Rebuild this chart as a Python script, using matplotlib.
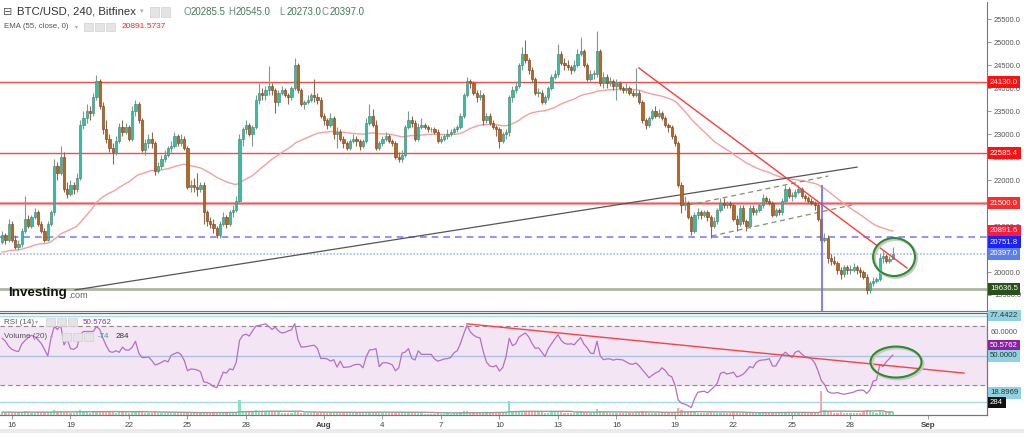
"""BTC/USD 4h chart with EMA, RSI and volume, Investing.com style."""

import matplotlib

matplotlib.use("Agg")
import matplotlib.pyplot as plt
import matplotlib.transforms as mtransforms
from matplotlib.patches import Ellipse, Rectangle
import numpy as np
import pandas as pd

plt.rcParams["font.family"] = ["Liberation Sans", "DejaVu Sans"]

# ---- data (4h candles, first one opens 2022-07-15 12:00) ----
start = pd.Timestamp("2022-07-15 12:00")
first_open = 20650.0

closes = [
    20800, 20700, 21050,                          # Jul 15
    20700, 20550, 20600, 20900, 21150, 21000,     # Jul 16
    21200, 21300, 21050, 20900, 20700, 21050,     # Jul 17
    21300, 22300, 22150, 22500, 21800, 21700,     # Jul 18
    21900, 21800, 22050, 23200, 23350, 23500,     # Jul 19
    23450, 23800, 24150, 23600, 23100, 22900,     # Jul 20
    22700, 22600, 22850, 23150, 23050, 23150,     # Jul 21
    22900, 23500, 23650, 23300, 22650, 22800,     # Jul 22
    22900, 22800, 22200, 22300, 22450, 22550,     # Jul 23
    22700, 22750, 22950, 22800, 22900, 22700,     # Jul 24
    21850, 21900, 21850, 21800, 21900, 21300,     # Jul 25
    21100, 21050, 20950, 20800, 21050, 21200,     # Jul 26
    21050, 21300, 21350, 21550, 22900, 23100,     # Jul 27
    23200, 23000, 23150, 23750, 23900, 23850,     # Jul 28
    23950, 24050, 23950, 23700, 23900, 23950,     # Jul 29
    23850, 23800, 24000, 24500, 23950, 23650,     # Jul 30
    23700, 23750, 23850, 23800, 23750, 23400,     # Jul 31
    23300, 23200, 23350, 23000, 23050, 22900,     # Aug 1
    22800, 22700, 22850, 22900, 22850, 22750,     # Aug 2
    22850, 23250, 23400, 23200, 22700, 22800,     # Aug 3
    22900, 22950, 22850, 22800, 22500, 22450,     # Aug 4
    22550, 23150, 23300, 23250, 22900, 23150,     # Aug 5
    23200, 23150, 23100, 23100, 23050, 22850,     # Aug 6
    22900, 22950, 23000, 23050, 23100, 23150,     # Aug 7
    23400, 23850, 24150, 24100, 23900, 23800,     # Aug 8
    23850, 23300, 23400, 23250, 23150, 23100,     # Aug 9
    22850, 23000, 23050, 23800, 23950, 24050,     # Aug 10
    24500, 24750, 24600, 24400, 24200, 23900,     # Aug 11
    23900, 23700, 23800, 24000, 24250, 24300,     # Aug 12
    24750, 24550, 24500, 24450, 24400, 24500,     # Aug 13
    24750, 24800, 24500, 24200, 24300, 24300,     # Aug 14
    24800, 24100, 24250, 24100, 24150, 24050,     # Aug 15
    24100, 24000, 23950, 24000, 23900, 23850,     # Aug 16
    23900, 23700, 23300, 23200, 23350, 23500,     # Aug 17
    23400, 23450, 23350, 23200, 23150, 22950,     # Aug 18
    22800, 21900, 21450, 21500, 21200, 20900,     # Aug 19
    21250, 21300, 21250, 21300, 21200, 21000,     # Aug 20
    21100, 21350, 21500, 21450, 21500, 21450,     # Aug 21
    21150, 21050, 21400, 21100, 21000, 21400,     # Aug 22
    21300, 21350, 21450, 21600, 21550, 21500,     # Aug 23
    21250, 21350, 21300, 21550, 21800, 21650,     # Aug 24
    21650, 21750, 21800, 21650, 21600, 21550,     # Aug 25
    21500, 21450, 21150, 20700, 20750, 20300,     # Aug 26
    20250, 20200, 20050, 19950, 20100, 20050,     # Aug 27
    20050, 20100, 20050, 20000, 19900, 19600,     # Aug 28
    19750, 19800, 19850, 20300, 20350, 20250,     # Aug 29
    20285.5, 20397.0,                             # Aug 30
]

highs = [
    20900, 20850, 21150,
    21100, 20800, 20700, 20950, 21650, 21250,
    21250, 21400, 21350, 21100, 20950, 21100,
    21350, 22450, 22400, 22740, 22600, 21950,
    22000, 21950, 22150, 23300, 23500, 23650,
    23600, 23900, 24280, 24200, 23700, 23300,
    23000, 22800, 22950, 23250, 23300, 23250,
    23200, 23600, 23750, 23700, 23350, 22900,
    23000, 23050, 22850, 22400, 22550, 22650,
    22750, 22850, 23050, 23000, 23000, 22950,
    22750, 22000, 22050, 22150, 21950, 21950,
    21350, 21200, 21150, 21000, 21100, 21300,
    21250, 21350, 21450, 21650, 23000, 23150,
    23300, 23250, 23200, 23850, 24100, 24000,
    24050, 24480, 24100, 24000, 23950, 24050,
    24000, 23900, 24050, 24650, 24550, 24000,
    23750, 23850, 23900, 24200, 23900, 23800,
    23450, 23350, 23450, 23400, 23150, 23100,
    22950, 22850, 22900, 23000, 22950, 22900,
    22900, 23350, 23650, 23550, 23300, 22850,
    22950, 23050, 23000, 22900, 22850, 22600,
    22650, 23200, 23500, 23400, 23300, 23250,
    23350, 23250, 23200, 23150, 23150, 23100,
    22950, 23000, 23100, 23100, 23150, 23200,
    23450, 23900, 24250, 24200, 24150, 23950,
    23950, 23900, 23450, 23450, 23300, 23200,
    23150, 23050, 23100, 23850, 24050, 24150,
    24550, 24900, 25050, 24650, 24450, 24250,
    24000, 23950, 23850, 24050, 24300, 24400,
    24950, 24800, 24650, 24600, 24500, 24600,
    24850, 25100, 24850, 24550, 24400, 24400,
    25240, 24850, 24350, 24300, 24250, 24200,
    24200, 24150, 24050, 24100, 24050, 23950,
    24430, 23950, 23750, 23350, 23400, 23550,
    23600, 23550, 23500, 23400, 23250, 23200,
    23000, 22850, 21950, 21650, 21550, 21250,
    21300, 21400, 21350, 21350, 21350, 21250,
    21200, 21400, 21600, 21600, 21550, 21550,
    21500, 21250, 21450, 21450, 21150, 21450,
    21450, 21400, 21500, 21700, 21650, 21600,
    21550, 21400, 21400, 21600, 21900, 21850,
    21750, 21800, 21900, 21850, 21700, 21650,
    21600, 21550, 21500, 21200, 20850, 20800,
    20400, 20350, 20250, 20100, 20150, 20150,
    20150, 20200, 20150, 20100, 20050, 19950,
    19800, 19900, 19900, 20400, 20450, 20400,
    20350, 20545,
]

lows = [
    20600, 20600, 20650,
    20650, 20500, 20480, 20550, 20850, 20950,
    20950, 21150, 21000, 20850, 20650, 20680,
    21000, 21250, 22000, 22100, 21750, 21600,
    21650, 21700, 21750, 22000, 23100, 23250,
    23300, 23400, 23750, 23550, 23000, 22800,
    22600, 22350, 22550, 22800, 22950, 23000,
    22850, 22850, 23400, 23250, 22600, 22550,
    22700, 22700, 22100, 22150, 22250, 22400,
    22500, 22600, 22700, 22750, 22750, 22650,
    21800, 21750, 21750, 21650, 21750, 21050,
    21000, 20950, 20850, 20740, 20750, 21000,
    20950, 21000, 21200, 21300, 21500, 22750,
    23000, 22950, 22750, 23100, 23650, 23750,
    23750, 23850, 23850, 23450, 23600, 23850,
    23800, 23650, 23750, 23950, 23900, 23600,
    23550, 23650, 23700, 23700, 23650, 23350,
    23200, 23100, 23150, 22900, 22700, 22850,
    22700, 22650, 22650, 22800, 22750, 22650,
    22700, 22800, 23200, 23150, 22650, 22650,
    22750, 22850, 22800, 22750, 22450, 22400,
    22400, 22500, 23100, 23150, 22850, 22850,
    23100, 23100, 23050, 23050, 23000, 22800,
    22800, 22850, 22900, 22950, 23000, 23050,
    23100, 23350, 23800, 24000, 23850, 23700,
    23750, 23200, 23250, 23200, 23100, 22950,
    22700, 22800, 22900, 22950, 23700, 23900,
    24000, 24400, 24550, 24300, 24100, 23850,
    23800, 23650, 23650, 23750, 23950, 24200,
    24250, 24500, 24400, 24400, 24300, 24350,
    24450, 24700, 24450, 24150, 24150, 24200,
    24250, 24050, 24000, 24000, 24050, 23950,
    23750, 23950, 23900, 23900, 23850, 23800,
    23800, 23650, 23250, 23100, 23150, 23300,
    23350, 23350, 23300, 23150, 23050, 22900,
    22750, 21850, 21280, 21350, 21150, 20800,
    20850, 21150, 21150, 21200, 21100, 20750,
    20950, 21050, 21300, 21400, 21400, 21400,
    21100, 20900, 21000, 21050, 20900, 20950,
    21250, 21250, 21300, 21400, 21500, 21450,
    21200, 21200, 21250, 21250, 21500, 21600,
    21550, 21600, 21700, 21600, 21550, 21500,
    21450, 21350, 21100, 20650, 20650, 20200,
    20150, 20150, 19950, 19850, 19900, 19950,
    19950, 20000, 19950, 19900, 19850, 19520,
    19550, 19700, 19750, 19800, 20200, 20200,
    20200, 20273,
]

volumes = [
    300, 250, 350,
    250, 200, 250, 300, 450, 300,
    250, 200, 300, 250, 350, 300,
    350, 550, 350, 450, 350, 300,
    250, 250, 300, 550, 350, 300,
    250, 300, 450, 400, 350, 300,
    300, 350, 250, 300, 450, 300,
    250, 350, 300, 300, 400, 250,
    200, 200, 300, 250, 200, 200,
    200, 200, 250, 200, 200, 250,
    350, 250, 200, 250, 200, 350,
    300, 250, 250, 300, 300, 250,
    250, 200, 250, 300, 1500, 450,
    350, 300, 300, 550, 400, 300,
    300, 400, 300, 350, 300, 250,
    200, 200, 250, 400, 350, 250,
    200, 200, 250, 300, 250, 300,
    300, 250, 250, 300, 300, 250,
    300, 250, 300, 250, 300, 250,
    250, 350, 300, 300, 350, 250,
    250, 200, 250, 200, 350, 250,
    250, 350, 300, 250, 300, 250,
    200, 150, 150, 150, 150, 200,
    150, 150, 200, 150, 200, 200,
    300, 400, 450, 300, 300, 250,
    250, 350, 250, 250, 250, 250,
    300, 250, 250, 1400, 400, 300,
    450, 400, 400, 350, 300, 300,
    300, 300, 250, 250, 300, 350,
    400, 300, 250, 200, 200, 250,
    300, 400, 300, 300, 250, 250,
    650, 450, 300, 300, 250, 250,
    250, 250, 200, 250, 200, 250,
    350, 300, 400, 350, 250, 250,
    250, 200, 200, 250, 250, 300,
    350, 700, 550, 400, 350, 400,
    350, 250, 200, 200, 250, 300,
    200, 250, 200, 200, 200, 200,
    300, 300, 250, 300, 250, 250,
    250, 200, 250, 300, 250, 250,
    250, 250, 200, 300, 350, 250,
    200, 250, 250, 200, 200, 200,
    250, 250, 350, 2400, 550, 450,
    300, 250, 250, 300, 250, 200,
    200, 200, 250, 200, 300, 550,
    400, 300, 250, 500, 350, 300,
    300, 284,
]

rsi_values = [
    62, 60, 56.5,
    54.5, 53.5, 53, 58, 60.5, 62.5,
    64, 63, 61, 58.5, 54.5, 50,
    62, 70, 68, 71, 57.5, 61.5,
    55, 54.5, 56, 64.5, 66.6, 66.6,
    66.6, 66.6, 70, 68, 62, 57,
    53, 52.5, 53.5, 52.5, 56, 54,
    54, 56, 60, 52, 49, 49,
    49.3, 47, 44, 44.6, 45.7, 47,
    46, 50.5, 51.6, 52.5, 51, 47,
    40, 41.2, 41, 40.5, 39.3, 32.5,
    32, 31, 29.3, 28.5, 33.7, 39,
    38.5, 41.3, 40.6, 45.8, 60.5, 64,
    64.8, 63.5, 67, 70.2, 70.7, 71.2,
    71.8, 70, 68, 69.6, 67, 65.6,
    66, 67, 67.7, 72, 61, 56,
    56.2, 56.5, 57, 57.3, 55, 48.4,
    48.4, 48, 46.5, 47.5, 42.5, 46.5,
    42.2, 42.5, 42.7, 43.8, 44.3, 44.3,
    42, 49.5, 54.1, 54.3, 55, 42.8,
    45.3, 45.5, 45, 44, 40, 42,
    52, 52.7, 55, 48.4, 47.3, 53.5,
    51.1, 51.1, 51.1, 51.1, 48, 46.5,
    47.2, 48, 48.2, 49, 52.2, 53.6,
    58.5, 65, 70.8, 66.4, 64.2, 62.8,
    62.3, 53, 45.8, 43.2, 42.7, 43.6,
    39.8, 42.2, 49.5, 62, 57, 58.3,
    62.8, 64.3, 65.6, 62.9, 58.5, 55.2,
    55.5, 52.7, 49.6, 55, 58.3, 61.5,
    64.5, 60.5, 58.6, 58, 58.3, 57.6,
    60.2, 62.5, 58, 55.5, 52, 51.6,
    60, 50, 47.5, 48, 48, 47.2,
    47.8, 47.6, 47.3, 46, 44.7, 44.4,
    45.3, 43.3, 40.5, 38, 35.2, 37,
    38.5, 39.5, 42, 40.2, 37, 35.9,
    30.3, 20.1, 17.9, 17.4, 16.4, 15,
    21, 25.4, 25.8, 26.1, 25, 27,
    29, 31.5, 38.3, 39, 37.8, 38.3,
    39, 35.8, 36.5, 37.7, 40, 42.8,
    42, 45.6, 47, 47.3, 47.5, 48.2,
    43.2, 43.2, 47, 50.8, 52.6, 50.5,
    49, 52.5, 53.5, 51.3, 49.5, 49.1,
    48, 45.3, 40, 33.5, 30.7, 26,
    24.9, 24.8, 25.2, 24.5, 24.1, 24.5,
    25, 25.5, 26.6, 26.9, 26.8, 24.6,
    27, 33, 33.7, 44, 42.8, 46,
    48.3, 50.58,
]

ema_seed = 20420.0

# horizontal levels drawn on the chart
red_levels = [24130.0, 22585.4, 21500.0]
blue_level = 20751.8
support_level = 19636.5
ema_label = 20891.6

# drawn trendlines, as (candle index, price)
support_line_x = [22.4, 263.0]
support_line_y = [19610, 22280]
down_line_x = [195.9, 278.4]
down_line_y = [24435, 20087]
channel_up_x = [211.1, 254.2]
channel_up_y = [21456, 22087]
channel_lo_x = [218.3, 261.4]
channel_lo_y = [20783, 21456]
event_x = 252.2
event_top = 21890
rsi_line_x = [143.0, 295.9]
rsi_line_y = [71.8, 38.4]

tick_dates = ["2022-07-16", "2022-07-19", "2022-07-22", "2022-07-25", "2022-07-28",
              "2022-08-01", "2022-08-04", "2022-08-07", "2022-08-10", "2022-08-13",
              "2022-08-16", "2022-08-19", "2022-08-22", "2022-08-25", "2022-08-28",
              "2022-09-01"]
tick_labels = ["16", "19", "22", "25", "28", "Aug", "4", "7", "10", "13",
               "16", "19", "22", "25", "28", "Sep"]

n = len(closes)
assert len(highs) == n and len(lows) == n and len(volumes) == n and len(rsi_values) == n

df = pd.DataFrame({"close": closes, "high": highs, "low": lows, "volume": volumes})
df["open"] = [first_open] + closes[:-1]
df["high"] = df[["high", "open", "close"]].max(axis=1)
df["low"] = df[["low", "open", "close"]].min(axis=1)
df["ema"] = pd.Series([ema_seed] + closes).ewm(span=55, adjust=False).mean().iloc[1:].to_numpy()
df["vol_ma"] = df["volume"].rolling(20, min_periods=1).mean()
x = np.arange(n)
up = df["close"] >= df["open"]

# ---- figure ----
W, H = 1024, 433
fig = plt.figure(figsize=(W / 100, H / 100), dpi=100)
fig.patch.set_facecolor("white")


def fx(px):
    return px / W


def fy(py):
    return 1 - py / H


ax = fig.add_axes([0, fy(310.5), fx(987), (310.5 - 2) / H])
ax_rsi = fig.add_axes([0, fy(415), fx(987), (415 - 313) / H])
ax_vol = ax_rsi.twinx()

xlim = (-0.69, 303.0)
for a in (ax, ax_rsi, ax_vol):
    a.set_xlim(*xlim)
    for side in ("left", "top"):
        a.spines[side].set_visible(False)
    a.spines["right"].set_color("#777777")
    a.spines["right"].set_linewidth(0.8)
    a.spines["bottom"].set_color("#777777")
    a.spines["bottom"].set_linewidth(0.8)

ax.set_ylim(19163, 25870)
ax_rsi.set_ylim(10, 79.15)
ax_vol.set_ylim(0, 10300)

# price axis (labels fully hidden by the level boxes are left out)
price_ticks = np.arange(19500, 25501, 500)
ax.yaxis.tick_right()
ax.set_yticks(price_ticks)
ax.set_yticklabels(["" if v in (21500, 20500) else f"{v:.1f}" for v in price_ticks])
ax.tick_params(axis="y", labelsize=5.4, colors="#888888", labelcolor="#555555",
               length=3, width=0.6, pad=2)
ax.set_xticks([])

# candles
wick_col = np.where(up, "#7e9a8b", "#8c6a52")
ax.vlines(x, df["low"], df["high"], colors=wick_col, linewidth=0.8, zorder=3)
body_lo = df[["open", "close"]].min(axis=1)
body_h = (df["close"] - df["open"]).abs().clip(lower=18)
ax.bar(x, body_h, bottom=body_lo, width=0.66,
       color=np.where(up, "#2cc0a6", "#bb661c"),
       edgecolor=np.where(up, "#4f8572", "#7a4522"), linewidth=0.45, zorder=4)

# EMA
ax.plot(x, df["ema"], color="#f5a0a0", linewidth=1.0, zorder=2)

# horizontal levels
ax.axhline(red_levels[0], color="#ff4747", linewidth=1.0, zorder=1)
ax.axhline(red_levels[1], color="#ff4747", linewidth=1.0, zorder=1)
ax.axhline(red_levels[2], color="#f7a0a0", linewidth=2.2, zorder=1)
ax.axhline(red_levels[2], color="#f05a5a", linewidth=0.8, zorder=1)
ax.axhline(blue_level, color="#8080ff", linewidth=1.2, dashes=(4, 3), zorder=1)
ax.axhline(closes[-1], color="#a8b8f0", linewidth=1.2, linestyle=(0, (1, 1)), zorder=1)
ax.axhline(support_level, color="#aab89c", linewidth=2.0, zorder=1)

# trendlines
ax.plot(support_line_x, support_line_y, color="#555555", linewidth=0.9, zorder=2)
ax.plot(down_line_x, down_line_y, color="#ff3b3b", linewidth=1.0, zorder=5)
ax.plot(channel_up_x, channel_up_y, color="#7f9270", linewidth=0.9, dashes=(4, 3), zorder=2)
ax.plot(channel_lo_x, channel_lo_y, color="#7f9270", linewidth=0.9, dashes=(4, 3), zorder=2)
ax.vlines(event_x, 19163, event_top, color="#6a6aff", linewidth=1.2, zorder=5)

# highlight ellipses with a soft shadow
shadow = mtransforms.offset_copy(ax.transData, fig=fig, x=1.5, y=-1.5, units="dots")
ax.add_patch(Ellipse((274.4, 20326), 12.9, 826, fill=False, ec="#c8c8c8",
                     lw=2.0, transform=shadow, zorder=5))
ax.add_patch(Ellipse((274.4, 20326), 12.9, 826, fill=False, ec="#2e8b2e",
                     lw=1.5, zorder=6))


def right_label(a, value, text, bg, fg="white", dy=0.0, z=10):
    a.annotate(text, xy=(1, value), xycoords=a.get_yaxis_transform(),
               xytext=(2.2, dy), textcoords="offset points", ha="left", va="center",
               fontsize=5.6, color=fg, annotation_clip=False, zorder=z,
               bbox=dict(boxstyle="square,pad=0.3", fc=bg, ec="none"))


right_label(ax, red_levels[0], "24130.0", "#ff1010")
right_label(ax, red_levels[1], "22585.4", "#ff1010")
right_label(ax, red_levels[2], "21500.0", "#ff2a2a")
right_label(ax, ema_label, "20891.6", "#ff1a3a")
right_label(ax, blue_level, "20751.8", "#1a22ff", dy=-3.5)
right_label(ax, closes[-1], "20397.0", "#5b80ea")
right_label(ax, support_level, "19636.5", "#2b4f1c")

# ---- RSI panel ----
ax_rsi.axhspan(30, 70, color="#f3e5f3", zorder=0)
ax_rsi.axhline(70, color="#8a8a8a", linewidth=0.8, dashes=(4, 3))
ax_rsi.axhline(30, color="#8a8a8a", linewidth=0.8, dashes=(4, 3))
ax_rsi.axhline(50, color="#a9c3e6", linewidth=1.0)
ax_rsi.axhline(77.4422, color="#a6dbe8", linewidth=1.0)
ax_rsi.axhline(18.8969, color="#a6dbe8", linewidth=1.0)
ax_rsi.plot(x, rsi_values, color="#b470c4", linewidth=0.9, zorder=4)
ax_rsi.plot(rsi_line_x, rsi_line_y, color="#ff4040", linewidth=1.0, zorder=5)
ax_rsi.add_patch(Ellipse((275, 45.9), 15.7, 21, fill=False, ec="#c8c8c8", lw=2.0,
                         transform=mtransforms.offset_copy(ax_rsi.transData, fig=fig,
                                                           x=1.5, y=-1.5, units="dots"),
                         zorder=5))
ax_rsi.add_patch(Ellipse((275, 45.9), 15.7, 21, fill=False, ec="#2e8b2e", lw=1.5, zorder=6))
ax_rsi.spines["top"].set_visible(True)
ax_rsi.spines["top"].set_color("#666666")
ax_rsi.spines["top"].set_linewidth(0.9)
ax_rsi.set_yticks([])
ax_vol.set_yticks([])

# volume
ax_vol.bar(x, df["volume"], width=0.62,
           color=np.where(up, "#86e3bf", "#f6aaa6"), linewidth=0, zorder=2)
ax_vol.plot(x, df["vol_ma"], color="#9a9a9a", linewidth=1.0, zorder=3)

right_label(ax_rsi, 77.4422, "77.4422", "#8fd3e3", fg="#333333")
ax_rsi.annotate("60.0000", xy=(1, 60), xycoords=ax_rsi.get_yaxis_transform(),
                xytext=(2.6, 6.5), textcoords="offset points", ha="left", va="center",
                fontsize=5.4, color="#555555", annotation_clip=False)
right_label(ax_rsi, 50.5762, "50.5762", "#8a1fa0", dy=7.0)
right_label(ax_rsi, 50.0, "50.0000", "#8fd3e3", fg="#333333")
right_label(ax_rsi, 18.8969, "18.8969", "#8fd3e3", fg="#333333", dy=6.5)
right_label(ax_vol, volumes[-1], "284", "#111111", dy=7.0)

# date axis
tick_pos = [(pd.Timestamp(d) - start) / pd.Timedelta(hours=4) for d in tick_dates]
ax_rsi.set_xticks(tick_pos)
ax_rsi.set_xticklabels(tick_labels)
ax_rsi.tick_params(axis="x", labelsize=5.8, colors="#888888", labelcolor="#444444",
                   length=3, width=0.6, pad=2)
for lbl in ax_rsi.get_xticklabels():
    if lbl.get_text() in ("Aug", "Sep"):
        lbl.set_fontweight("bold")


# ---- header texts ----
def icon(px, py, w=9, h=9):
    fig.patches.append(Rectangle((fx(px), fy(py + h)), w / W, h / H,
                                 transform=fig.transFigure, fc="#e4e4e4", ec="#d0d0d0",
                                 lw=0.5))


fig.text(fx(3), fy(12), "\u229f", fontsize=8, color="#555555", va="center")
fig.text(fx(17), fy(12), "BTC/USD, 240, Bitfinex", fontsize=8.2, color="#333333",
         va="center")
fig.text(fx(140), fy(12), "\u25be", fontsize=5, color="#aaaaaa", va="center")
icon(150, 7.5)
icon(161, 7.5)
ohlc = [("O", "20285.5", 183), ("H", "20545.0", 228), ("L", "20273.0", 279),
        ("C", "20397.0", 322)]
for letter, val, px in ohlc:
    fig.text(fx(px), fy(12), letter, fontsize=7.0, color="#6f8f7a", va="center")
    fig.text(fx(px + 7.5), fy(12), val, fontsize=7.0, color="#3e7d56", va="center")

fig.text(fx(4), fy(27), "EMA (55, close, 0)", fontsize=5.7, color="#555555", va="center")
fig.text(fx(75), fy(27), "\u25be", fontsize=4.5, color="#aaaaaa", va="center")
icon(84, 23, 9, 8)
icon(95, 23, 9, 8)
icon(106, 23, 9, 8)
fig.text(fx(122), fy(27), "20891.5737", fontsize=6, color="#ff2020", va="center")

fig.text(fx(4), fy(322), "RSI (14)", fontsize=5.8, color="#555555", va="center")
fig.text(fx(35), fy(322), "\u25be", fontsize=4.5, color="#aaaaaa", va="center")
icon(46, 318, 9, 8)
icon(57, 318, 9, 8)
icon(68, 318, 9, 8)
fig.text(fx(83), fy(322), "50.5762", fontsize=5.8, color="#9c27b0", va="center")

fig.text(fx(4), fy(337), "Volume (20)", fontsize=5.8, color="#555555", va="center")
fig.text(fx(50), fy(337), "\u25be", fontsize=4.5, color="#aaaaaa", va="center")
icon(62, 333, 9, 8)
icon(73, 333, 9, 8)
icon(84, 333, 9, 8)
fig.text(fx(98), fy(337), "-74", fontsize=5.8, color="#22b37a", va="center")
fig.text(fx(116), fy(337), "284", fontsize=5.8, color="#333333", va="center")

# Investing.com logo
fig.text(fx(8), fy(293), "Investing", fontsize=9.6, fontweight="bold", color="#111111",
         va="center")
fig.text(fx(68), fy(295.5), ".com", fontsize=6.6, color="#666666", va="center")

# bottom strip
fig.patches.append(Rectangle((0, 0), 1, 4.5 / H, transform=fig.transFigure,
                             fc="#ebebeb", ec="none"))

fig.savefig("out.png", dpi=100)
plt.close(fig)
